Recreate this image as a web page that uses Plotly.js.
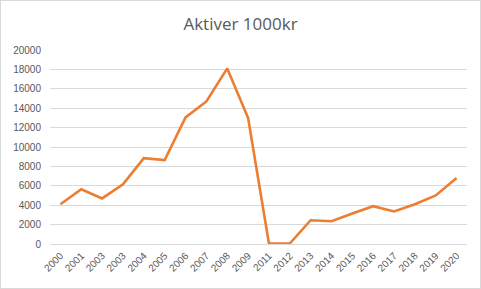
<!DOCTYPE html>
<html>
<head>
<meta charset="utf-8">
<script src="https://cdn.plot.ly/plotly-3.0.1.min.js"></script>
<style>
html,body{margin:0;padding:0;background:#fff;}
#wrap{width:481px;height:289px;box-sizing:border-box;border:1px solid #d9d9d9;position:relative;overflow:hidden;}
#chart{width:479px;height:287px;}
</style>
</head>
<body>
<div id="wrap"><div id="chart"></div></div>
<script>
var years = ["2000","2001","2003","2003","2004","2005","2006","2007","2008","2009","2011","2012","2013","2014","2015","2016","2017","2018","2019","2020"];
var aktiver = [4100,5650,4700,6150,8850,8650,13050,14700,18100,13000,50,50,2450,2350,3150,3900,3350,4100,5000,6800];
var yTicks = [0,2000,4000,6000,8000,10000,12000,14000,16000,18000,20000];

var idx = years.map(function(_, i){ return i; });

var trace = {
  x: idx,
  y: aktiver,
  type: 'scatter',
  mode: 'lines',
  line: {color: '#ED7D31', width: 2.6, shape: 'linear'},
  hoverinfo: 'skip'
};

var layout = {
  width: 479,
  height: 287,
  margin: {l: 49, r: 13, t: 49, b: 44},
  paper_bgcolor: '#ffffff',
  plot_bgcolor: '#ffffff',
  showlegend: false,
  font: {family: 'Liberation Sans, Arial, sans-serif', color: '#595959', size: 10},
  title: {
    text: 'Aktiver 1000kr',
    font: {family: 'Open Sans, Liberation Sans, sans-serif', size: 17, color: '#595959'},
    x: 0.5, xanchor: 'center', y: 0.92, yanchor: 'middle'
  },
  xaxis: {
    range: [-0.5, years.length - 0.5],
    tickmode: 'array',
    tickvals: idx,
    ticktext: years,
    tickangle: -45,
    showgrid: false,
    zeroline: false,
    showline: false,
    ticks: '',
    ticklabelstandoff: 3,
    tickfont: {size: 10, color: '#595959'},
    fixedrange: true
  },
  yaxis: {
    range: [0, 20000],
    tickmode: 'array',
    tickvals: yTicks,
    ticktext: yTicks.map(String),
    showgrid: true,
    gridcolor: '#d9d9d9',
    gridwidth: 1,
    zeroline: true,
    zerolinecolor: '#d9d9d9',
    zerolinewidth: 1,
    showline: false,
    ticks: '',
    ticklabelstandoff: 8,
    tickfont: {size: 10, color: '#595959'},
    fixedrange: true
  }
};

Plotly.newPlot('chart', [trace], layout, {displayModeBar: false, staticPlot: true});
</script>
</body>
</html>
